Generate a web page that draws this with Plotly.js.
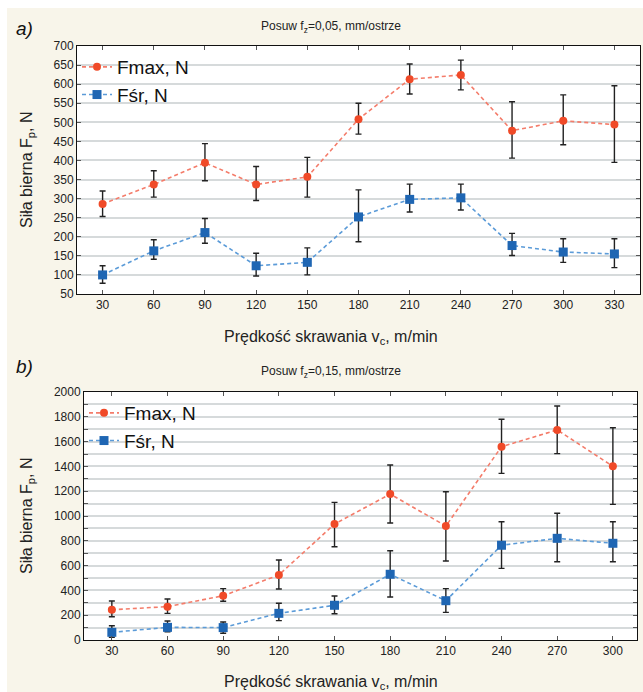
<!DOCTYPE html>
<html><head><meta charset="utf-8">
<script src="https://cdn.plot.ly/plotly-3.0.1.min.js"></script>
<style>
html,body{margin:0;padding:0;background:#ffffff;}
#bg{position:absolute;left:7px;top:8px;width:636px;height:684px;background:#f8f5ea;}
#chart{position:absolute;left:0;top:0;width:643px;height:692px;}
</style></head>
<body><div id="bg"></div><div id="chart"></div>
<script>
// ---- chart a) ----
const vcA = [30, 60, 90, 120, 150, 180, 210, 240, 270, 300, 330];
const fmaxA = [286, 337, 394, 337, 357, 508, 613, 624, 478, 504, 494];
const fmaxA_hi = [320, 373, 444, 384, 408, 550, 653, 663, 554, 572, 596];
const fmaxA_lo = [253, 304, 347, 295, 304, 469, 574, 585, 406, 441, 395];
const fsrA = [100, 163, 211, 124, 133, 252, 298, 302, 177, 160, 155];
const fsrA_hi = [124, 192, 248, 157, 171, 323, 338, 338, 209, 195, 195];
const fsrA_lo = [78, 141, 183, 97, 100, 187, 265, 270, 151, 133, 119];

// ---- chart b) ----
const vcB = [30, 60, 90, 120, 150, 180, 210, 240, 270, 300];
const fmaxB = [244, 269, 357, 524, 935, 1177, 919, 1559, 1694, 1401];
const fmaxB_hi = [314, 331, 414, 645, 1110, 1411, 1196, 1780, 1887, 1712];
const fmaxB_lo = [188, 215, 312, 411, 752, 944, 637, 1344, 1503, 1094];
const fsrB = [62, 102, 100, 215, 280, 530, 317, 764, 820, 780];
const fsrB_hi = [115, 153, 145, 296, 355, 720, 414, 954, 1022, 954];
const fsrB_lo = [22, 67, 54, 156, 212, 347, 223, 578, 631, 631];

const yTicksA = [50,100,150,200,250,300,350,400,450,500,550,600,650,700];
const yTicksB = [0,200,400,600,800,1000,1200,1400,1600,1800,2000];
const yMinorB = [100,300,500,700,900,1100,1300,1500,1700,1900];

const legendNames = ['Fmax, N', 'Fśr, N'];
const titleA = 'Posuw f<sub>z</sub>=0,05, mm/ostrze';
const titleB = 'Posuw f<sub>z</sub>=0,15, mm/ostrze';
const xTitle = 'Prędkość skrawania v<sub>c</sub>, m/min';
const yTitle = 'Siła bierna F<sub>p</sub>, N';

const RED = '#f04a28', RED_L = '#f47c6a', BLUE = '#1f66b3', BLUE_L = '#5b9bd8';

function diff(a, b){ return a.map((v,i)=>Math.abs(v-b[i])); }
function tr(x, y, hi, lo, name, col, lcol, sym, size, xa, ya, leg){
  return {
    x: x, y: y, type:'scatter', mode:'lines+markers', name: name,
    xaxis: xa, yaxis: ya, legend: leg,
    line:{color:lcol, width:1.6, dash:'4px,3px'},
    marker:{color:col, symbol:sym, size:size},
    error_y:{type:'data', symmetric:false, array: diff(hi,y), arrayminus: diff(y,lo),
      color:'#222', thickness:1.4, width:3}
  };
}
const data = [
  tr(vcA, fmaxA, fmaxA_hi, fmaxA_lo, legendNames[0], RED, RED_L, 'circle', 8, 'x', 'y', 'legend'),
  tr(vcA, fsrA, fsrA_hi, fsrA_lo, legendNames[1], BLUE, BLUE_L, 'square', 9, 'x', 'y', 'legend'),
  tr(vcB, fmaxB, fmaxB_hi, fmaxB_lo, legendNames[0], RED, RED_L, 'circle', 8, 'x2', 'y2', 'legend2'),
  tr(vcB, fsrB, fsrB_hi, fsrB_lo, legendNames[1], BLUE, BLUE_L, 'square', 9, 'x2', 'y2', 'legend2')
];

const W=643, H=692;
const px = v => v/W, py = v => (H-v)/H;
const FAM = 'Liberation Sans, Arial, sans-serif';
const tickFont = {family:FAM, size:12, color:'#222'};
const xBase = {showline:true, linecolor:'#111', linewidth:1, mirror:'ticks', ticks:'inside', ticklen:4, tickcolor:'#555',
  showgrid:false, zeroline:false, tickfont:tickFont, tickmode:'array', fixedrange:true};
const yBase = {showline:true, linecolor:'#111', linewidth:1, mirror:'ticks', ticks:'inside', ticklen:4, tickcolor:'#555',
  showgrid:true, gridcolor:'#d6dadb', gridwidth:2, zeroline:false, tickfont:tickFont, tickmode:'array', fixedrange:true};

const legBase = {bgcolor:'rgba(0,0,0,0)', borderwidth:0, font:{family:FAM, size:19, color:'#111'},
  xanchor:'left', yanchor:'top', tracegroupgap:0, itemwidth:30};

const annFont = {family:FAM, size:12, color:'#222'};
const axFont = {family:FAM, size:16, color:'#222'};
const layout = {
  width:W, height:H, margin:{l:0,r:0,t:0,b:0},
  paper_bgcolor:'rgba(0,0,0,0)', plot_bgcolor:'#ffffff',
  showlegend:true,
  xaxis: Object.assign({}, xBase, {domain:[px(77), px(640)], range:[15,345], tickvals:vcA, ticktext:vcA.map(String), anchor:'y'}),
  yaxis: Object.assign({}, yBase, {domain:[py(294), py(46)], range:[50,700], tickvals:yTicksA, ticktext:yTicksA.map(String), anchor:'x'}),
  xaxis2: Object.assign({}, xBase, {domain:[px(84), px(637)], range:[15,313], tickvals:vcB, ticktext:vcB.map(String), anchor:'y2'}),
  yaxis2: Object.assign({}, yBase, {domain:[py(640), py(392)], range:[0,2000], tickvals:yTicksB, ticktext:yTicksB.map(String), anchor:'x2',
    minor:{tickvals:yMinorB, showgrid:true, gridcolor:'#d6dadb', gridwidth:2, ticks:'inside', ticklen:4, tickcolor:'#555'}}),
  legend: Object.assign({}, legBase, {x:px(77), y:py(48)}),
  legend2: Object.assign({}, legBase, {x:px(84), y:py(394)}),
  annotations:[
    {text:'<i>a)</i>', xref:'paper', yref:'paper', x:px(14), y:py(28), xanchor:'left', yanchor:'middle', showarrow:false, font:{family:FAM, size:19, color:'#111'}},
    {text:'<i>b)</i>', xref:'paper', yref:'paper', x:px(14), y:py(366), xanchor:'left', yanchor:'middle', showarrow:false, font:{family:FAM, size:19, color:'#111'}},
    {text:titleA, xref:'paper', yref:'paper', x:px(331), y:py(27), xanchor:'center', yanchor:'middle', showarrow:false, font:annFont},
    {text:titleB, xref:'paper', yref:'paper', x:px(331), y:py(372), xanchor:'center', yanchor:'middle', showarrow:false, font:annFont},
    {text:xTitle, xref:'paper', yref:'paper', x:px(331), y:py(337), xanchor:'center', yanchor:'middle', showarrow:false, font:axFont},
    {text:xTitle, xref:'paper', yref:'paper', x:px(331), y:py(682), xanchor:'center', yanchor:'middle', showarrow:false, font:axFont},
    {text:yTitle, xref:'paper', yref:'paper', x:px(27), y:py(170), xanchor:'center', yanchor:'middle', textangle:-90, showarrow:false, font:axFont},
    {text:yTitle, xref:'paper', yref:'paper', x:px(27), y:py(516), xanchor:'center', yanchor:'middle', textangle:-90, showarrow:false, font:axFont}
  ]
};
Plotly.newPlot('chart', data, layout, {displayModeBar:false, staticPlot:true});
</script></body></html>
